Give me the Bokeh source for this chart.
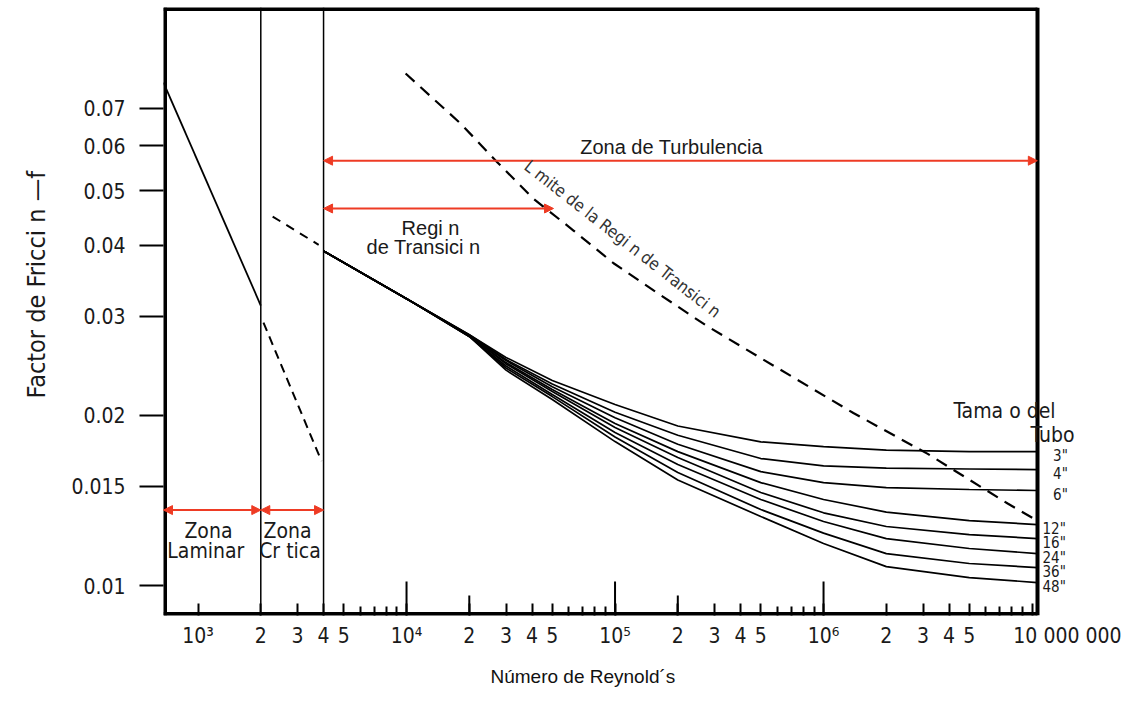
import math
from bokeh.plotting import figure
from bokeh.models import FixedTicker, Span, Arrow, NormalHead, Label, Range1d, Title
from bokeh.embed import file_html
from bokeh.resources import INLINE

# ---------------- data ----------------
# laminar zone, f vs Re
re_lam = [683, 2000]
f_lam = [0.0777, 0.0313]
# critical zone dashed lines
re_crit_up = [2280, 3790]
f_crit_up = [0.0450, 0.0401]
re_crit_low = [2060, 3910]
f_crit_low = [0.0292, 0.0166]

# turbulent curves per pipe size
re_turb = [4000, 1e4, 2e4, 3e4, 5e4, 1e5, 2e5, 5e5, 1e6, 2e6, 5e6, 1.06e7]
pipe_sizes = ['3"', '4"', '6"', '12"', '16"', '24"', '36"', '48"']
f_3 = [0.0391, 0.0322, 0.0278, 0.02534, 0.02306, 0.02091, 0.01916, 0.01796, 0.01762, 0.01736, 0.01726, 0.01726]
f_4 = [0.0391, 0.0322, 0.0278, 0.02512, 0.02273, 0.02027, 0.01845, 0.01678, 0.01628, 0.01614, 0.01608, 0.01604]
f_6 = [0.0391, 0.0322, 0.0277, 0.02502, 0.02248, 0.01981, 0.01779, 0.01591, 0.01521, 0.01491, 0.01479, 0.01473]
f_12 = [0.0391, 0.0322, 0.0277, 0.02481, 0.02223, 0.01935, 0.01726, 0.01521, 0.01420, 0.01349, 0.01303, 0.01282]
f_16 = [0.0391, 0.0322, 0.0277, 0.02468, 0.02205, 0.01904, 0.01685, 0.01461, 0.01345, 0.01272, 0.01231, 0.01211]
f_24 = [0.0391, 0.0322, 0.0276, 0.02447, 0.02178, 0.01866, 0.01638, 0.01420, 0.01298, 0.01211, 0.01163, 0.01139]
f_36 = [0.0391, 0.0322, 0.0276, 0.02427, 0.02160, 0.01832, 0.01585, 0.01363, 0.01238, 0.01139, 0.01094, 0.01076]
f_48 = [0.0391, 0.0322, 0.0276, 0.02406, 0.02134, 0.01798, 0.01537, 0.01325, 0.01187, 0.01080, 0.01033, 0.01012]
f_curves = [f_3, f_4, f_6, f_12, f_16, f_24, f_36, f_48]

# limit of transition region (dashed)
re_lim = [9900, 18200, 27300, 40600, 63200, 98400, 153000, 272000, 576000, 1.39e6, 3.16e6, 7.64e6, 1.04e7]
f_lim = [0.0806, 0.0657, 0.0561, 0.0484, 0.0425, 0.0372, 0.0333, 0.0289, 0.0245, 0.0202, 0.0171, 0.01397, 0.01308]

# zone boundaries (Re) and arrow levels (f)
zone_lines = [2000, 4000]
zone_re_start = [683, 2000, 4000, 4000]
zone_re_end = [2000, 4000, 1.06e7, 50700]
zone_f = [0.0136, 0.0136, 0.0565, 0.0465]

# ticks
y_ticks = [0.01, 0.015, 0.02, 0.03, 0.04, 0.05, 0.06, 0.07]
y_labels = ["0.01", "0.015", "0.02", "0.03", "0.04", "0.05", "0.06", "0.07"]
x_ticks = [1e3, 2e3, 3e3, 4e3, 5e3, 1e4, 2e4, 3e4, 4e4, 5e4, 1e5, 2e5, 3e5, 4e5, 5e5,
           1e6, 2e6, 3e6, 4e6, 5e6, 1e7]
PAD = "\u2007" * 6  # keeps the last label starting right of its tick, as in the reference
x_labels = ["10³", "2", "3", "4", "5", "10⁴", "2", "3", "4", "5", "10⁵", "2", "3", "4", "5",
            "10⁶", "2", "3", "4", "5", PAD + "10 000 000"]
x_minor = [6e3, 7e3, 8e3, 9e3, 6e4, 7e4, 8e4, 9e4, 6e5, 7e5, 8e5, 9e5, 6e6, 7e6, 8e6, 9e6]
x_long_ticks = [1e4, 1e5, 1e6]
x_mid_ticks = [2e4, 2e5]

# ---------------- figure ----------------
NARROW = "DejaVu Sans Condensed"
REG = "Liberation Sans"
RED = "#ee3b24"
INK = "#1a1a1a"

# chart box in data units; the canvas frame extends past the right border so
# that the pipe-size labels that sit outside the box stay visible
X0, XB = 683, 1.062e7
Y0, Y1 = 0.00885, 0.1055
BOX_W, FRAME_H, RIGHT_PAD = 874, 608, 84
X1 = XB * (XB / X0) ** (RIGHT_PAD / BOX_W)

p = figure(width=1121, height=702, x_axis_type="log", y_axis_type="log",
           x_range=Range1d(X0, X1), y_range=Range1d(Y0, Y1),
           output_backend="svg", toolbar_location=None, title=None,
           min_border_left=163, min_border_right=0, min_border_top=7, min_border_bottom=87)
p.background_fill_color = "white"
p.border_fill_color = "white"
p.grid.visible = False
p.outline_line_color = None

xa = p.xaxis[0]
xa.ticker = FixedTicker(ticks=x_ticks, minor_ticks=x_minor)
xa.major_label_overrides = dict(zip(x_ticks, x_labels))
xa.axis_line_color = None
xa.major_tick_in = 12
xa.major_tick_out = 0
xa.minor_tick_in = 9
xa.minor_tick_out = 0
xa.major_tick_line_width = 2
xa.minor_tick_line_width = 2
xa.major_label_text_font = NARROW
xa.major_label_text_font_size = "21px"
xa.major_label_text_color = INK
xa.major_label_standoff = 8

ya = p.yaxis[0]
ya.ticker = FixedTicker(ticks=y_ticks, minor_ticks=[])
ya.major_label_overrides = dict(zip(y_ticks, y_labels))
ya.axis_line_color = None
ya.major_tick_in = 0
ya.major_tick_out = 24
ya.major_tick_line_width = 2
ya.minor_tick_line_color = None
ya.major_label_text_font = NARROW
ya.major_label_text_font_size = "21px"
ya.major_label_text_color = INK
ya.major_label_standoff = 14

p.add_layout(Title(text="Número de Reynold´s", align="left", offset=327,
                   text_font=REG, text_font_size="19px", text_font_style="normal",
                   text_color="#111111", standoff=26), "below")
p.add_layout(Title(text="Factor de Fricci n —f", align="left", offset=217,
                   vertical_align="top",
                   text_font=NARROW, text_font_size="25px", text_font_style="normal",
                   text_color=INK, standoff=32), "left")

# chart box border
p.add_layout(Span(location=X0, dimension="height", line_color="black", line_width=7))
p.add_layout(Span(location=XB, dimension="height", line_color="black", line_width=4))
p.segment(x0=[X0, X0], y0=[Y0, Y1], x1=[XB, XB], y1=[Y0, Y1], line_color="black", line_width=7)


def up(h):
    return Y0 * (Y1 / Y0) ** (h / FRAME_H)


p.segment(x0=x_long_ticks, y0=[Y0] * len(x_long_ticks), x1=x_long_ticks,
          y1=[up(34)] * len(x_long_ticks), line_color="black", line_width=2)
p.segment(x0=x_mid_ticks, y0=[Y0] * len(x_mid_ticks), x1=x_mid_ticks,
          y1=[up(20)] * len(x_mid_ticks), line_color="black", line_width=2)

for loc in zone_lines:
    p.add_layout(Span(location=loc, dimension="height", line_color="black", line_width=1.5))

p.line(re_lam, f_lam, line_color="black", line_width=1.8)
p.line(re_crit_up, f_crit_up, line_color="black", line_width=2, line_dash="9 7")
p.line(re_crit_low, f_crit_low, line_color="black", line_width=2, line_dash="9 6")

for fc in f_curves:
    p.line(re_turb, fc, line_color="black", line_width=1.7)

p.line(re_lim, f_lim, line_color="black", line_width=2.2, line_dash="12 8")

for rs, reend, fz in zip(zone_re_start, zone_re_end, zone_f):
    p.add_layout(Arrow(
        start=NormalHead(size=9, fill_color=RED, line_color=RED),
        end=NormalHead(size=9, fill_color=RED, line_color=RED),
        x_start=rs, y_start=fz, x_end=reend, y_end=fz,
        line_color=RED, line_width=2))


def lab(text, x, y, size, font=NARROW, align="center", angle=0.0, xo=0, yo=0,
        baseline="middle", color=INK):
    p.add_layout(Label(x=x, y=y, text=text, text_font=font, text_font_size=size,
                       text_align=align, text_baseline=baseline, angle=angle,
                       x_offset=xo, y_offset=yo, text_color=color))


lab("Zona de Turbulencia", 186700, 0.0598, "20px", font=REG)
lab("Regi n", 13030, 0.0430, "20px", font=REG)
lab("de Transici n", 12060, 0.0398, "20px", font=REG)
lab("Zona", 1122, 0.01251, "21px")
lab("Laminar", 1090, 0.01149, "21px")
lab("Zona", 2685, 0.01251, "21px")
lab("Cr tica", 2760, 0.01149, "21px")
lab("Tama o del", 7.38e6, 0.02041, "21px")
lab("Tubo", 9.84e6, 0.0185, "21px", align="left")
lab("L mite de la Regi n de Transici n", 108700, 0.0411, "17px",
    angle=-math.radians(38), color="#333333")

for name, fc in zip(pipe_sizes, f_curves):
    if len(name) == 2:
        lab(name, XB, fc[-1], "15px", xo=23, yo=-4)
    else:
        lab(name, XB, fc[-1], "15px", align="left", xo=5, yo=-4)

open("out.html", "w").write(file_html(p, INLINE))
